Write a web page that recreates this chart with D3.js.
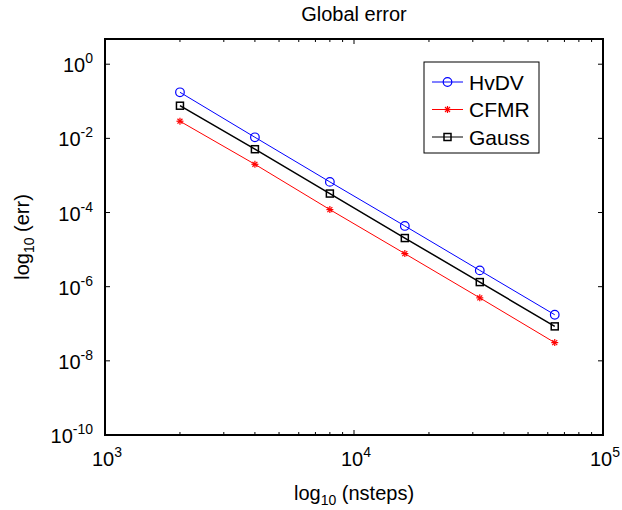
<!DOCTYPE html>
<html>
<head>
<meta charset="utf-8">
<script src="https://cdn.jsdelivr.net/npm/d3@7"></script>
<style>
  body { margin: 0; background: #fff; }
  text { font-family: "Liberation Sans", Arial, sans-serif; fill: #000; }
</style>
</head>
<body>
<div id="chart"></div>
<script>
// data
const nsteps = [2000, 4000, 8000, 16000, 32000, 64000];
const hvdv  = [0.175, 0.0107, 6.7e-4, 4.35e-5, 2.75e-6, 1.75e-7];
const cfmr  = [0.029, 0.002, 1.2e-4, 7.8e-6, 5.0e-7, 3.1e-8];
const gauss = [0.076, 0.0051, 3.25e-4, 2.05e-5, 1.33e-6, 8.5e-8];
const xTickExp = [3, 4, 5];
const yTickExp = [0, -2, -4, -6, -8, -10];

const width = 622, height = 510;
const margin = { top: 39, right: 19, bottom: 75, left: 105 };

const svg = d3.select("#chart").append("svg")
    .attr("width", width).attr("height", height);

const x = d3.scaleLog().domain([1e3, 1e5]).range([margin.left, width - margin.right]);
const y = d3.scaleLog().domain([1e-10, Math.pow(10, 0.68)]).range([height - margin.bottom, margin.top]);

const x0 = x.range()[0], x1 = x.range()[1];
const y0 = y.range()[0], y1 = y.range()[1];

// ticks (inward, on all four sides)
const tickG = svg.append("g").attr("stroke", "#000").attr("stroke-width", 1);
const minorX = [];
for (let e = 3; e < 5; e++) for (let m = 2; m <= 9; m++) minorX.push(m * Math.pow(10, e));
minorX.forEach(v => {
    tickG.append("line").attr("x1", x(v)).attr("x2", x(v)).attr("y1", y0).attr("y2", y0 - 3);
    tickG.append("line").attr("x1", x(v)).attr("x2", x(v)).attr("y1", y1).attr("y2", y1 + 3);
});
xTickExp.forEach(e => {
    const v = Math.pow(10, e);
    tickG.append("line").attr("x1", x(v)).attr("x2", x(v)).attr("y1", y0).attr("y2", y0 - 5);
    tickG.append("line").attr("x1", x(v)).attr("x2", x(v)).attr("y1", y1).attr("y2", y1 + 5);
});
yTickExp.forEach(e => {
    const v = Math.pow(10, e);
    tickG.append("line").attr("x1", x0).attr("x2", x0 + 5).attr("y1", y(v)).attr("y2", y(v));
    tickG.append("line").attr("x1", x1).attr("x2", x1 - 5).attr("y1", y(v)).attr("y2", y(v));
});

// tick labels with superscript exponents
xTickExp.forEach(e => {
    const t = svg.append("text").attr("x", x(Math.pow(10, e)) + 2).attr("y", y0 + 31)
        .attr("text-anchor", "middle").style("font-size", "20px");
    t.append("tspan").text("10");
    t.append("tspan").attr("dy", -9).style("font-size", "14px").text(e);
});
yTickExp.forEach(e => {
    const t = svg.append("text").attr("x", x0 - 12).attr("y", y(Math.pow(10, e)) + 8)
        .attr("text-anchor", "end").style("font-size", "20px");
    t.append("tspan").text("10");
    t.append("tspan").attr("dy", -9).style("font-size", "14px").text(e);
});

// frame
svg.append("rect").attr("x", x0).attr("y", y1).attr("width", x1 - x0).attr("height", y0 - y1)
    .attr("fill", "none").attr("stroke", "#000").attr("stroke-width", 2);

// series
const series = [
    { name: "HvDV", values: hvdv, color: "#0000ff", marker: "circle" },
    { name: "CFMR", values: cfmr, color: "#ff0000", marker: "star" },
    { name: "Gauss", values: gauss, color: "#000000", marker: "square" }
];

function drawMarker(g, type, cx, cy, color) {
    if (type === "circle") {
        g.append("circle").attr("cx", cx).attr("cy", cy).attr("r", 4.3)
            .attr("fill", "none").attr("stroke", color).attr("stroke-width", 1.2);
    } else if (type === "square") {
        g.append("rect").attr("x", cx - 3.5).attr("y", cy - 3.5).attr("width", 7).attr("height", 7)
            .attr("fill", "none").attr("stroke", color).attr("stroke-width", 1.5);
    } else {
        const r = 3.5;
        [0, 45, 90, 135].forEach(a => {
            const rad = a * Math.PI / 180;
            g.append("line")
                .attr("x1", cx - r * Math.cos(rad)).attr("y1", cy - r * Math.sin(rad))
                .attr("x2", cx + r * Math.cos(rad)).attr("y2", cy + r * Math.sin(rad))
                .attr("stroke", color).attr("stroke-width", 1.2);
        });
    }
}

const line = d3.line().x(d => x(d[0])).y(d => y(d[1]));
series.forEach(s => {
    const pts = nsteps.map((n, i) => [n, s.values[i]]);
    const g = svg.append("g");
    g.append("path").attr("d", line(pts)).attr("fill", "none")
        .attr("stroke", s.color).attr("stroke-width", s.marker === "square" ? 1.5 : 1);
    pts.forEach(p => drawMarker(g, s.marker, x(p[0]), y(p[1]), s.color));
});

// legend
const lg = svg.append("g");
lg.append("rect").attr("x", 424).attr("y", 62).attr("width", 115).attr("height", 91)
    .attr("fill", "#fff").attr("stroke", "#000").attr("stroke-width", 1);
series.forEach((s, i) => {
    const cy = 82 + i * 27.5;
    lg.append("line").attr("x1", 432).attr("x2", 463).attr("y1", cy).attr("y2", cy)
        .attr("stroke", s.color).attr("stroke-width", 1);
    drawMarker(lg, s.marker, 447.5, cy, s.color);
    lg.append("text").attr("x", 469).attr("y", cy + 7.5).style("font-size", "21px").text(s.name);
});

// title and axis labels
svg.append("text").attr("x", (x0 + x1) / 2).attr("y", 21).attr("text-anchor", "middle")
    .style("font-size", "20px").text("Global error");

const xl = svg.append("text").attr("x", (x0 + x1) / 2).attr("y", 500).attr("text-anchor", "middle")
    .style("font-size", "20px");
xl.append("tspan").text("log");
xl.append("tspan").attr("dy", 5).style("font-size", "14px").text("10");
xl.append("tspan").attr("dy", -5).text(" (nsteps)");

const yl = svg.append("text").attr("transform", `translate(29, ${(y0 + y1) / 2}) rotate(-90)`)
    .attr("text-anchor", "middle").style("font-size", "20px");
yl.append("tspan").text("log");
yl.append("tspan").attr("dy", 5).style("font-size", "14px").text("10");
yl.append("tspan").attr("dy", -5).text(" (err)");
</script>
</body>
</html>
